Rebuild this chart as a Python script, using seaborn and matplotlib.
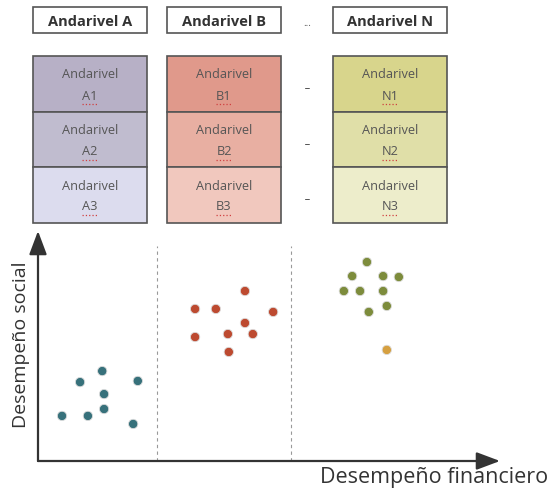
import matplotlib.pyplot as plt
import seaborn as sns
import pandas as pd
from matplotlib.patches import Rectangle

sns.set_theme(style="white")
plt.rcParams['font.family'] = ['Open Sans', 'DejaVu Sans']

# Header labels and the sub-lane cells
headers = ['Andarivel A', 'Andarivel B', 'Andarivel N']
cell_codes = [['A1', 'A2', 'A3'], ['B1', 'B2', 'B3'], ['N1', 'N2', 'N3']]
cell_colors = [['#b7b0c6', '#c0bccf', '#dcdcee'],
               ['#e0998b', '#e8afa2', '#f1c8be'],
               ['#d8d58c', '#e0dfa8', '#ededcb']]

# Scatter points (financial vs social performance, 0-100 scale)
group_a_x = [5.2, 10.8, 9.1, 13.9, 14.3, 14.3, 21.6, 20.6]
group_a_y = [19.6, 19.6, 34.3, 39.1, 29.1, 22.6, 34.8, 16.1]
group_b_x = [34.0, 38.5, 44.8, 50.9, 44.8, 34.0, 41.1, 46.5, 41.3]
group_b_y = [66.1, 66.1, 73.9, 64.8, 60.0, 53.9, 55.2, 55.2, 47.4]
group_n_x = [71.2, 68.0, 74.7, 78.1, 66.2, 69.7, 74.7, 75.5, 71.6]
group_n_y = [86.5, 80.4, 80.4, 80.0, 73.9, 73.9, 73.9, 67.4, 64.8]
outlier_x = [75.5]
outlier_y = [48.3]

# Lane separators
separators = [25.8, 54.8]

df = pd.concat([
    pd.DataFrame({'fin': group_a_x, 'soc': group_a_y, 'grupo': 'A'}),
    pd.DataFrame({'fin': group_b_x, 'soc': group_b_y, 'grupo': 'B'}),
    pd.DataFrame({'fin': group_n_x, 'soc': group_n_y, 'grupo': 'N'}),
    pd.DataFrame({'fin': outlier_x, 'soc': outlier_y, 'grupo': 'N*'}),
])
palette = {'A': '#37717b', 'B': '#bd4a30', 'N': '#7d8c3c', 'N*': '#d6a040'}

W, H = 550, 489
fig = plt.figure(figsize=(W / 100, H / 100), dpi=100)

# Layout layer in pixel coordinates
lay = fig.add_axes([0, 0, 1, 1])
lay.set_xlim(0, W)
lay.set_ylim(H, 0)
lay.axis('off')

col_x = [33, 167, 333]
col_w = 114
for i, name in enumerate(headers):
    lay.add_patch(Rectangle((col_x[i], 8), col_w, 26, fill=False,
                            edgecolor='#555555', lw=1.2))
    lay.text(col_x[i] + col_w / 2, 21.5, name, ha='center', va='center',
             fontsize=10.5, fontweight='bold', color='#333333')
    for j in range(3):
        y0 = 57 + j * 55.5
        lay.add_patch(Rectangle((col_x[i], y0), col_w, 55.5,
                                facecolor=cell_colors[i][j],
                                edgecolor='#555555', lw=1.2))
        lay.text(col_x[i] + col_w / 2, y0 + 18, 'Andarivel', ha='center',
                 va='center', fontsize=9.2, color='#555555')
        lay.text(col_x[i] + col_w / 2, y0 + 39, cell_codes[i][j], ha='center',
                 va='center', fontsize=9.2, color='#555555')
        lay.plot([col_x[i] + col_w / 2 - 8, col_x[i] + col_w / 2 + 8],
                 [y0 + 48, y0 + 48], color='#d04040', lw=0.9, ls=':')
        lay.text(307, y0 + 32, '–', ha='center', va='center',
                 fontsize=7, color='#555555')
lay.text(307, 24, '...', ha='center', va='center', fontsize=7, color='#555555')

# Scatter panel
x0, x1, ytop, ybot = 38, 500, 232, 462
ax = fig.add_axes([x0 / W, (H - ybot) / H, (x1 - x0) / W, (ybot - ytop) / H])
ax.patch.set_alpha(0)
sns.scatterplot(data=df, x='fin', y='soc', hue='grupo', palette=palette,
                s=45, edgecolor='#dddddd', linewidth=0.6, legend=False, ax=ax)
for sx in separators:
    ax.plot([sx, sx], [0, 93.5], color='#999999', lw=0.8, ls=(0, (3, 3)))
ax.set_xlim(0, 100)
ax.set_ylim(0, 100)
ax.set_xticks([])
ax.set_yticks([])
for s in ax.spines.values():
    s.set_visible(False)
ax.annotate('', xy=(100, 0), xytext=(0, 0),
            arrowprops=dict(arrowstyle='-|>,head_length=1.2,head_width=0.45',
                            color='#333333', lw=1.6, shrinkA=0, shrinkB=0))
ax.annotate('', xy=(0, 100), xytext=(0, 0),
            arrowprops=dict(arrowstyle='-|>,head_length=1.2,head_width=0.45',
                            color='#333333', lw=1.6, shrinkA=0, shrinkB=0))
ax.set_xlabel('')
ax.set_ylabel('')

lay.text(548, 477, 'Desempeño financiero', ha='right', va='center',
         fontsize=15.5, color='#333333')
lay.text(21, 345, 'Desempeño social', ha='center', va='center',
         rotation=90, fontsize=14, color='#333333')

fig.savefig('out.png', dpi=100)
